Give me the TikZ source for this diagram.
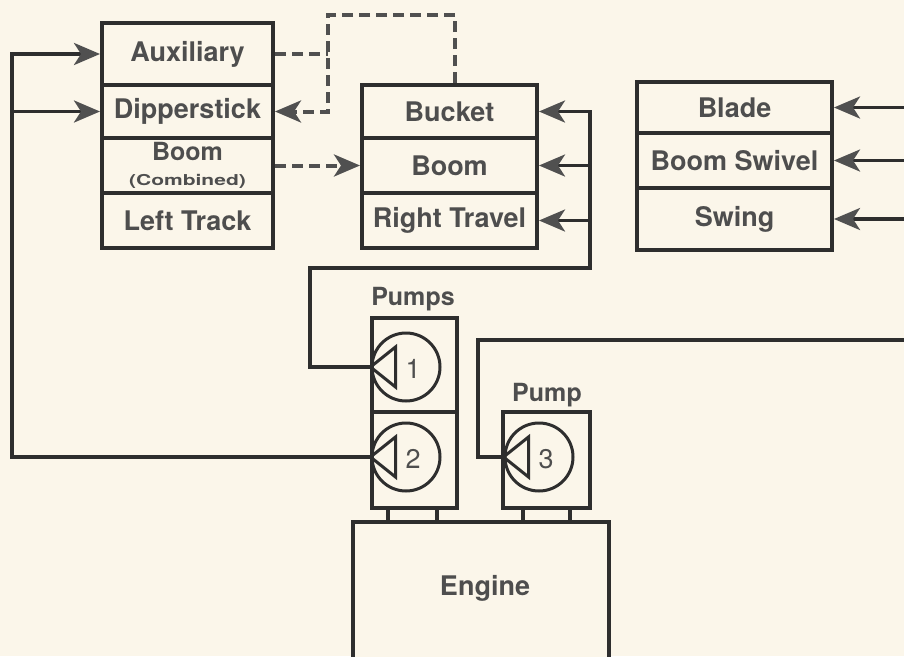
\documentclass[tikz,border=0pt]{standalone}
\usepackage{fontspec}
\setmainfont{TeX Gyre Heros}
\usetikzlibrary{arrows.meta,calc}
\definecolor{bgc}{HTML}{FBF6EA}
\definecolor{ln}{HTML}{2E2E2E}
\definecolor{tx}{HTML}{4E4E4E}
\definecolor{tipc}{HTML}{505050}
\begin{document}
\begin{tikzpicture}[x=1pt,y=-1pt,
 box/.style={draw=ln,line width=4pt,fill=bgc,inner sep=0pt,text=tx,font=\fontsize{27}{30}\selectfont\bfseries},
 conn/.style={draw=ln,line width=3.5pt},
 arr/.style={conn,-{Stealth[length=26pt,width=22pt,inset=7pt,color=tipc]}},
 dsh/.style={draw=tipc,line width=4pt,dash pattern=on 11pt off 6pt},
 darr/.style={dsh,-{Stealth[length=26pt,width=22pt,inset=7pt,color=tipc]}},
 pcirc/.style={circle,draw=ln,line width=3pt,minimum size=68pt,inner sep=0pt},
 num/.style={text=tx,font=\fontsize{27}{27}\selectfont},
 lbl/.style={text=tx,font=\fontsize{25}{27}\selectfont\bfseries},
]
\useasboundingbox (0,0) rectangle (904,656);
\clip (0,0) rectangle (904,656);
\fill[bgc] (0,0) rectangle (904,656);

% left stack
\node[box,minimum width=171pt,minimum height=62pt] (aux) at (187.5,54) {Auxiliary};
\node[box,minimum width=171pt,minimum height=53pt] (dip) at (187.5,111.5) {Dipperstick};
\node[box,minimum width=171pt,minimum height=55pt,align=center] (boomc) at (187.5,165.5)
  {\fontsize{25}{22}\selectfont Boom\\[-5pt]\scalebox{1.4}[1]{\fontsize{15}{15}\selectfont (Combined)}};
\node[box,minimum width=171pt,minimum height=55pt] (ltrack) at (187.5,220.5) {Left Track};

% middle stack
\node[box,minimum width=175pt,minimum height=53pt] (bucket) at (449.5,111.5) {Bucket};
\node[box,minimum width=175pt,minimum height=55pt] (boom) at (449.5,165.5) {Boom};
\node[box,minimum width=175pt,minimum height=55pt] (rtravel) at (449.5,220.5) {Right Travel};

% right stack
\node[box,minimum width=195pt,minimum height=51pt] (blade) at (734.5,107.5) {Blade};
\node[box,minimum width=195pt,minimum height=55pt] (swivel) at (734.5,160.5) {Boom Swivel};
\node[box,minimum width=195pt,minimum height=62pt] (swing) at (734.5,219) {Swing};

% pumps
\node[box,minimum width=85pt,minimum height=94pt] (p1) at (414.5,365) {};
\node[box,minimum width=85pt,minimum height=96pt] (p2) at (414.5,460) {};
\node[box,minimum width=87pt,minimum height=96pt] (p3) at (546.5,460) {};
\node[lbl] (pumpslbl) at (413,299) {Pumps};
\node[lbl] (pumplbl) at (547,395) {Pump};

\node[pcirc] (c1) at (406,367) {};
\node[pcirc] (c2) at (406,457) {};
\node[pcirc] (c3) at (539,457) {};
\foreach \c in {c1,c2,c3}{
  \draw[ln,line width=3pt,line join=miter] (\c.west) -- ++(25,-20) -- ++(0,40) -- cycle;
}
\node[num] (n1) at (413,369) {1};
\node[num] (n2) at (413,459) {2};
\node[num] (n3) at (546,459) {3};

% engine
\node[box,minimum width=256pt,minimum height=160pt,anchor=north] (engine) at (481,520) {};
\node[text=tx,font=\fontsize{27}{30}\selectfont\bfseries] (englbl) at (485,588) {Engine};
\foreach \p/\dx in {p2/-26.5,p2/22.5,p3/-23.5,p3/23.5}{
  \draw[conn] ([xshift=\dx pt]\p.south) -- ([xshift=\dx pt]\p.south |- engine.north);
}

% coordinates for connectors
\coordinate (Ltop) at (12,54);
\coordinate (M) at (590,268);
\coordinate (Mleft) at (310,268);
\coordinate (P3c) at (478,340);
\coordinate (Rend) at (904,340);
\coordinate (Rb) at (904,107.5);
\coordinate (Rs) at (904,160.5);
\coordinate (Rw) at (904,219);
\coordinate (D1) at (328,15);

% pump 2 loop to left stack
\draw[arr] (c2.west) -| (Ltop) -- (aux.west);
\draw[arr] (Ltop |- dip.west) -- (dip.west);

% pump 1 to middle stack
\draw[arr] (c1.west) -| (Mleft) -- (M) |- (bucket.east);
\draw[arr] (M |- boom.east) -- (boom.east);
\draw[arr] (M |- rtravel.east) -- (rtravel.east);

% pump 3 to right
\draw[conn] (c3.west) -| (P3c) -- (Rend);
\draw[arr] (Rb) -- (blade.east);
\draw[arr] (Rs) -- (swivel.east);
\draw[arr] (Rw) -- (swing.east);

% dashed pilot lines
\draw[darr] ([xshift=5.5pt]bucket.north) |- (D1) -- (D1 |- dip.east) -- (dip.east);
\draw[dsh] (aux.east) -- (aux.east -| D1);
\draw[darr] (boomc.east) -- (boom.west);
\end{tikzpicture}
\end{document}
